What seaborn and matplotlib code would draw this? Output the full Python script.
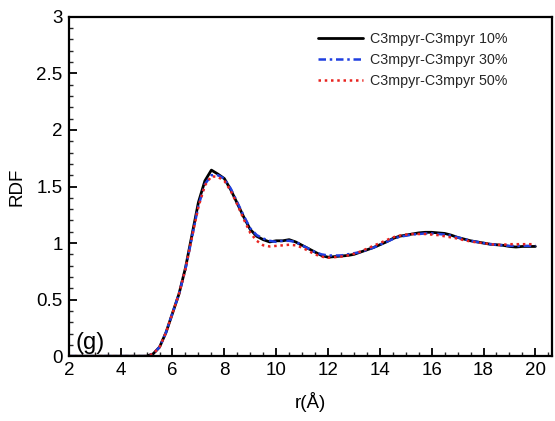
import matplotlib
matplotlib.use("Agg")
import matplotlib.pyplot as plt
import seaborn as sns
import pandas as pd
from matplotlib.ticker import MultipleLocator

sns.set_theme(style="white")
plt.rcParams['font.family'] = ['Liberation Sans', 'DejaVu Sans']

r = [2.0, 3.0, 4.0, 5.0, 5.25, 5.5, 5.75, 6.0, 6.25, 6.5, 6.75, 7.0, 7.25, 7.5, 7.75,
     8.0, 8.25, 8.5, 8.75, 9.0, 9.25, 9.5, 9.75, 10.0, 10.25, 10.5, 10.75, 11.0, 11.25,
     11.5, 11.75, 12.0, 12.25, 12.5, 12.75, 13.0, 13.25, 13.5, 13.75, 14.0, 14.25, 14.5,
     14.75, 15.0, 15.25, 15.5, 15.75, 16.0, 16.25, 16.5, 16.75, 17.0, 17.25, 17.5, 17.75,
     18.0, 18.25, 18.5, 18.75, 19.0, 19.25, 19.5, 19.75, 20.0]

rdf_10 = [0, 0, 0, 0, 0.02, 0.08, 0.21, 0.38, 0.55, 0.78, 1.07, 1.36, 1.55, 1.645, 1.61,
          1.57, 1.47, 1.35, 1.23, 1.12, 1.06, 1.03, 1.01, 1.02, 1.02, 1.03, 1.01, 0.98, 0.95,
          0.92, 0.89, 0.875, 0.88, 0.885, 0.89, 0.90, 0.92, 0.94, 0.96, 0.985, 1.01, 1.04,
          1.06, 1.07, 1.08, 1.09, 1.095, 1.095, 1.09, 1.085, 1.07, 1.05, 1.035, 1.02, 1.01,
          1.0, 0.99, 0.985, 0.98, 0.97, 0.965, 0.97, 0.97, 0.97]

rdf_30 = [0, 0, 0, 0, 0.02, 0.08, 0.21, 0.38, 0.55, 0.77, 1.05, 1.33, 1.52, 1.60, 1.60,
          1.57, 1.48, 1.36, 1.24, 1.13, 1.07, 1.04, 1.02, 1.01, 1.02, 1.02, 1.01, 0.98, 0.95,
          0.92, 0.90, 0.89, 0.89, 0.89, 0.90, 0.91, 0.92, 0.94, 0.96, 0.985, 1.01, 1.035,
          1.055, 1.065, 1.075, 1.08, 1.085, 1.085, 1.08, 1.075, 1.065, 1.05, 1.035, 1.02, 1.01,
          1.0, 0.99, 0.985, 0.98, 0.975, 0.975, 0.975, 0.975, 0.975]

rdf_50 = [0, 0, 0, 0, 0.02, 0.08, 0.21, 0.38, 0.55, 0.77, 1.05, 1.32, 1.51, 1.59, 1.585,
          1.55, 1.46, 1.34, 1.21, 1.09, 1.02, 0.98, 0.97, 0.975, 0.98, 0.985, 0.98, 0.96, 0.93,
          0.90, 0.88, 0.87, 0.875, 0.88, 0.89, 0.905, 0.925, 0.95, 0.975, 1.0, 1.025, 1.05,
          1.065, 1.075, 1.08, 1.08, 1.08, 1.075, 1.07, 1.06, 1.05, 1.04, 1.025, 1.015, 1.005,
          1.0, 0.99, 0.985, 0.985, 0.99, 0.99, 0.99, 0.99, 0.99]

labels = ["C3mpyr-C3mpyr 10%", "C3mpyr-C3mpyr 30%", "C3mpyr-C3mpyr 50%"]

fig = plt.figure(figsize=(5.55, 4.21), dpi=100)
ax = fig.add_axes([0.124, 0.154, 0.871, 0.806])

df10 = pd.DataFrame({"r": r, "g": rdf_10})
df30 = pd.DataFrame({"r": r, "g": rdf_30})
df50 = pd.DataFrame({"r": r, "g": rdf_50})

sns.lineplot(data=df10, x="r", y="g", ax=ax, color="black", lw=2.0, label=labels[0])
sns.lineplot(data=df30, x="r", y="g", ax=ax, color="#1f3fe0", lw=1.8, label=labels[1])
ax.lines[-1].set_dashes([3, 1.5, 1, 1.5])
sns.lineplot(data=df50, x="r", y="g", ax=ax, color="#e8231f", lw=1.8, label=labels[2])
ax.lines[-1].set_dashes([1, 1.5])

ax.set_xlim(2, 20.65)
ax.set_ylim(0, 3)
ax.xaxis.set_major_locator(MultipleLocator(2))
ax.xaxis.set_minor_locator(MultipleLocator(0.5))
ax.yaxis.set_minor_locator(MultipleLocator(0.1))
ax.set_yticks([0, 0.5, 1, 1.5, 2, 2.5, 3])
ax.set_yticklabels(["0", "0.5", "1", "1.5", "2", "2.5", "3"])
ax.tick_params(which="major", direction="in", length=6, width=1.3, labelsize=13.5,
               bottom=True, left=True, top=False, right=False, colors="black", pad=4.5)
ax.tick_params(which="minor", direction="in", length=3, width=1.0,
               bottom=True, left=True, top=False, right=False)
for s in ax.spines.values():
    s.set_color("black")
    s.set_linewidth(1.6)

ax.set_xlabel("r(Å)", fontsize=13.5, color="black", labelpad=9)
ax.set_ylabel("RDF", fontsize=13.5, color="black", labelpad=8)

ax.text(2.25, 0.02, "(g)", fontsize=17, color="black", ha="left", va="bottom")

leg = ax.legend(loc="upper right", bbox_to_anchor=(0.907, 0.955), frameon=False,
                fontsize=10.3, handlelength=3.15, handletextpad=0.5, labelspacing=0.47,
                borderpad=0, borderaxespad=0)

fig.savefig("out.png", dpi=100)
